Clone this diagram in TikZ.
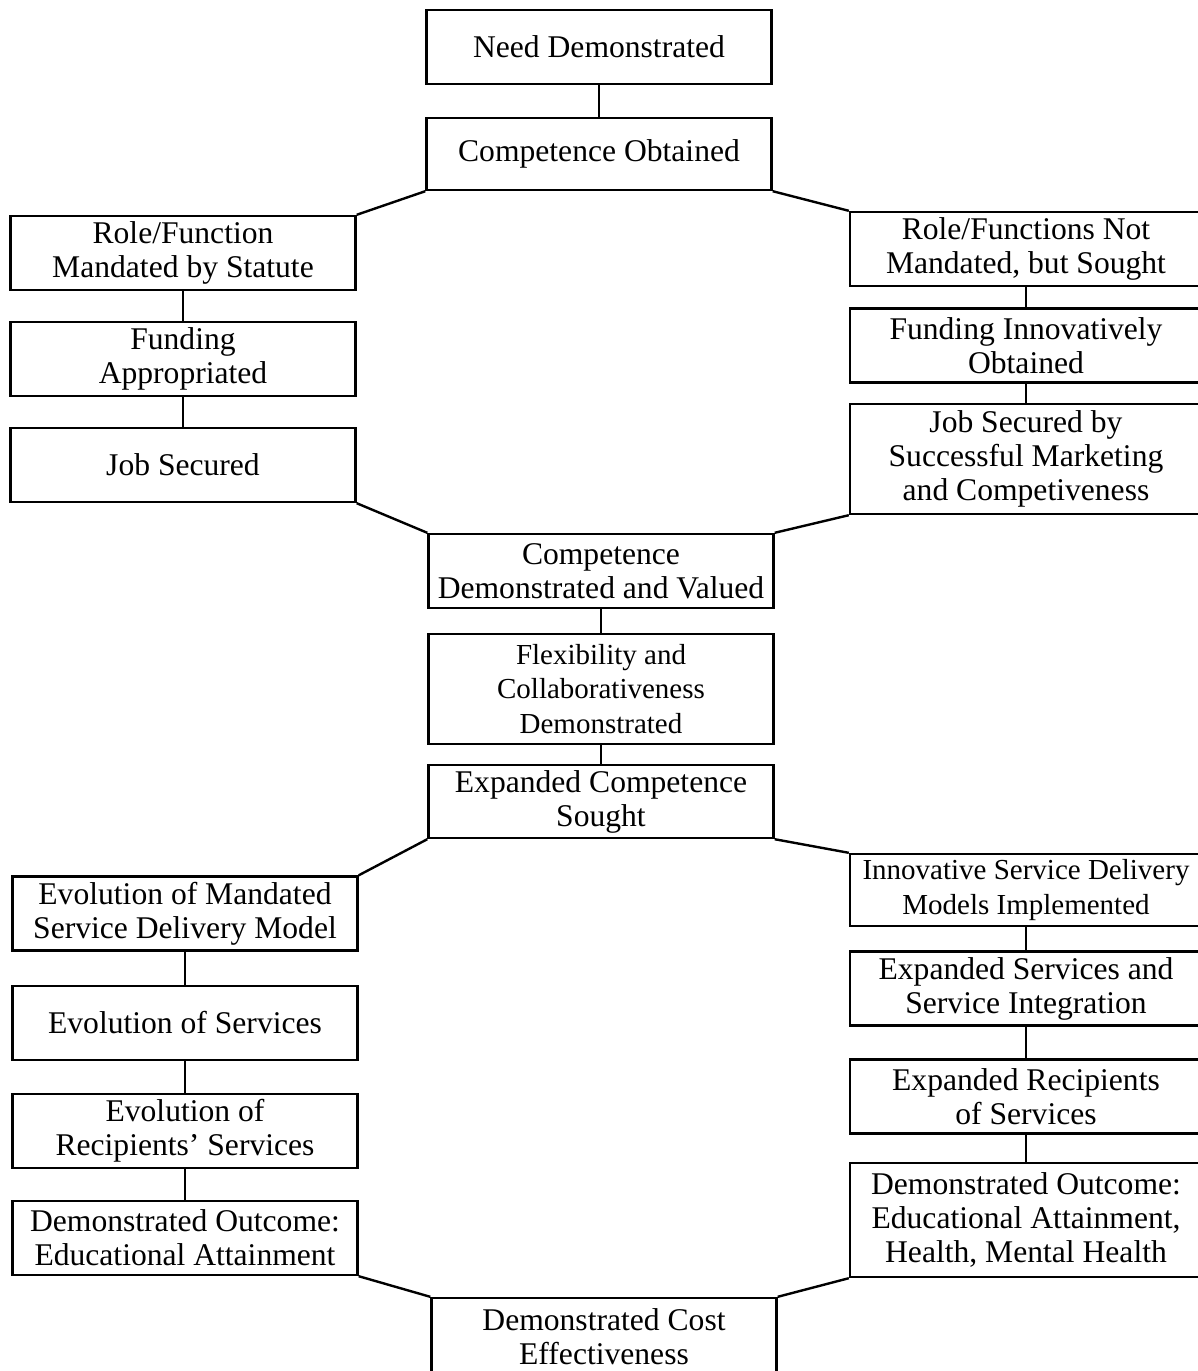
\documentclass[tikz,border=0pt]{standalone}
\usepackage{fontspec}
\setmainfont{Liberation Serif}
\begin{document}
\begin{tikzpicture}[x=0.5pt, y=-0.5pt,
	box/.style={draw, line width=1.2pt, minimum width=172.5pt, minimum height=37pt, inner sep=2pt, align=center, font=\fontsize{15.8}{17}\selectfont},
	tallbox/.style={box, minimum height=55pt},
	rbox/.style={box, minimum width=176pt},
	smalltext/.style={font=\fontsize{14.5}{17.2}\selectfont},
	link/.style={line width=1.2pt}]
	\useasboundingbox (0,0) rectangle (1198,1371);

	% Mitte oben
	\node[box] (need) at (599,47) {Need Demonstrated};
	\node[box, minimum height=36pt] (obt) at (599,154) {Competence Obtained};
	% linker Zweig oben
	\node[box] (mand) at (183,253) {Role/Function\\Mandated by Statute};
	\node[box] (funda) at (183,359) {Funding\\Appropriated};
	\node[box] (joba) at (183,465) {Job Secured};
	% rechter Zweig oben
	\node[rbox] (notmand) at (1026,249) {Role/Functions Not\\Mandated, but Sought};
	\node[rbox] (fundb) at (1026,345.5) {Funding Innovatively\\Obtained};
	\node[rbox, minimum height=55pt] (jobb) at (1026,459) {Job Secured by\\Successful Marketing\\and Competiveness};
	% Mitte
	\node[box] (valued) at (601,571) {Competence\\Demonstrated and Valued};
	\node[tallbox, smalltext] (flex) at (601,689) {Flexibility and\\Collaborativeness\\Demonstrated};
	\node[box, minimum height=36.5pt] (expand) at (601,801.5) {Expanded Competence\\Sought};
	% linker Zweig unten
	\node[box] (evomodel) at (185,913.5) {Evolution of Mandated\\Service Delivery Model};
	\node[box] (evoserv) at (185,1023) {Evolution of Services};
	\node[box] (evorec) at (185,1131) {Evolution of\\Recipients’ Services};
	\node[box] (outa) at (185,1238) {Demonstrated Outcome:\\Educational Attainment};
	% rechter Zweig unten
	\node[rbox, smalltext, minimum height=36pt] (innov) at (1026,890) {Innovative Service Delivery\\Models Implemented};
	\node[rbox] (expserv) at (1026,988.5) {Expanded Services and\\Service Integration};
	\node[rbox] (exprec) at (1026,1096.5) {Expanded Recipients\\of Services};
	\node[rbox, minimum height=57pt] (outb) at (1026,1220) {Demonstrated Outcome:\\Educational Attainment,\\Health, Mental Health};
	% Ergebnis
	\node[box, minimum height=39pt] (cost) at (604,1337) {Demonstrated Cost\\Effectiveness};

	% senkrechte Verbindungen
	\foreach \a/\b in {need/obt, mand/funda, funda/joba, notmand/fundb, fundb/jobb,
		valued/flex, flex/expand, evomodel/evoserv, evoserv/evorec, evorec/outa,
		innov/expserv, expserv/exprec, exprec/outb}
		\draw[link] (\a) -- (\b);
	% schraege Verbindungen
	\draw[link] (obt.south west) -- (mand.north east);
	\draw[link] (obt.south east) -- (notmand.north west);
	\draw[link] (joba.south east) -- (valued.north west);
	\draw[link] (jobb.south west) -- (valued.north east);
	\draw[link] (expand.south west) -- (evomodel.north east);
	\draw[link] (expand.south east) -- (innov.north west);
	\draw[link] (outa.south east) -- (cost.north west);
	\draw[link] (outb.south west) -- (cost.north east);
\end{tikzpicture}
\end{document}
